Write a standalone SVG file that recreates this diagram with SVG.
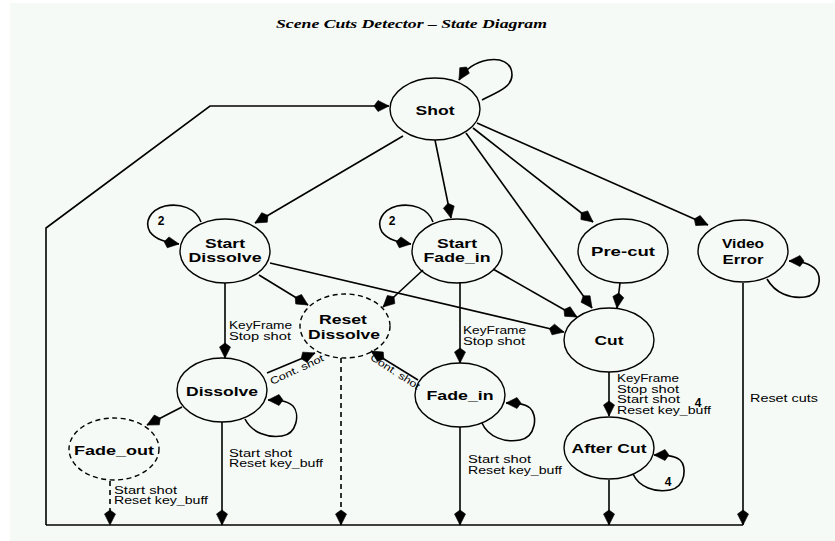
<svg xmlns="http://www.w3.org/2000/svg" width="835" height="541" viewBox="0 0 835 541">
<defs>
<style>
.bg{fill:#f6faf7}
.nd{fill:none;stroke:#000;stroke-width:1.4}
.dash{stroke-dasharray:5 3.5}
.e{fill:none;stroke:#000;stroke-width:1.6}
.ed{fill:none;stroke:#000;stroke-width:1.6;stroke-dasharray:5 4}
.n{font-family:"Liberation Sans",Arial,sans-serif;font-weight:bold;font-size:13.5px;text-anchor:middle;fill:#000}
.l{font-family:"Liberation Sans",Arial,sans-serif;font-size:10px;fill:#000}
.k{font-family:"Liberation Sans",Arial,sans-serif;font-weight:bold;font-size:12px;fill:#000;text-anchor:middle}
.t{font-family:"Liberation Serif","Times New Roman",serif;font-weight:bold;font-style:italic;font-size:12px;text-anchor:middle;fill:#000}
</style>
<marker id="ah" markerUnits="userSpaceOnUse" viewBox="-17 -7 18 14" refX="0" refY="0" markerWidth="18" markerHeight="14" orient="auto" overflow="visible">
<path d="M0,0 L-11,-5.5 L-15,0 L-11,5.5 Z" fill="#000" stroke="#000" stroke-width="0.6"/>
</marker>
</defs>
<rect class="bg" x="10" y="3" width="825" height="538"/>
<text class="t" x="411.5" y="28" textLength="271" lengthAdjust="spacingAndGlyphs">Scene Cuts Detector – State Diagram</text>

<g id="connectors">
<path class="e" d="M46,525 V228 L210,106 H389" marker-end="url(#ah)"/>
<path class="e" d="M46,525 H743"/>
<path class="e" d="M482,100 C495,93 512,88 512,75 C512,62 500,58 488,60 C476,62 466,68 459,80" marker-end="url(#ah)"/>
<path class="e" d="M403,136 L255,223" marker-end="url(#ah)"/>
<path class="e" d="M435,140 L451,218" marker-end="url(#ah)"/>
<path class="e" d="M466,133 L592,308" marker-end="url(#ah)"/>
<path class="e" d="M473,128 L593,222" marker-end="url(#ah)"/>
<path class="e" d="M477,123 L708,225" marker-end="url(#ah)"/>
<path class="e" d="M201,222 C196,208 180,203 165,206 C150,210 144,222 150,232 C156,240 166,242 179,244" marker-end="url(#ah)"/>
<path class="e" d="M433,222 C428,208 412,203 397,206 C382,210 376,222 382,232 C388,240 398,242 411,244" marker-end="url(#ah)"/>
<path class="e" d="M767,279 C775,293 790,299 805,297 C820,295 822,278 816,270 C810,263 800,261 789,261" marker-end="url(#ah)"/>
<path class="e" d="M259,275 L308,305" marker-end="url(#ah)"/>
<path class="e" d="M423,270 L383,307" marker-end="url(#ah)"/>
<path class="e" d="M270,263 L564,332" marker-end="url(#ah)"/>
<path class="e" d="M493,269 L577,317" marker-end="url(#ah)"/>
<path class="e" d="M225,283 V358" marker-end="url(#ah)"/>
<path class="e" d="M460,282 V363" marker-end="url(#ah)"/>
<path class="e" d="M620,283 L617,308" marker-end="url(#ah)"/>
<path class="e" d="M609,372 V416" marker-end="url(#ah)"/>
<path class="e" d="M267,373 L315,353" marker-end="url(#ah)"/>
<path class="e" d="M418,380 L371,351" marker-end="url(#ah)"/>
<path class="e" d="M182,407 L147,425" marker-end="url(#ah)"/>
<path class="e" d="M245,419 C252,433 268,438 282,436 C297,434 300,414 293,406 C286,400 277,400 268,400" marker-end="url(#ah)"/>
<path class="e" d="M482,423 C488,437 505,443 520,440 C536,437 538,415 530,408 C524,403 515,403 506,403" marker-end="url(#ah)"/>
<path class="e" d="M633,474 C639,487 655,493 670,490 C686,487 687,466 680,460 C674,455 663,455 654,455" marker-end="url(#ah)"/>
<path class="ed" d="M110,481 V525" marker-end="url(#ah)"/>
<path class="e" d="M222,422 V525" marker-end="url(#ah)"/>
<path class="ed" d="M341,358 V525" marker-end="url(#ah)"/>
<path class="e" d="M460,427 V525" marker-end="url(#ah)"/>
<path class="e" d="M609,480 V525" marker-end="url(#ah)"/>
<path class="e" d="M743,283 V525" marker-end="url(#ah)"/>

<g id="edge-labels">
<text class="k" x="161" y="225">2</text>
<text class="k" x="392" y="225">2</text>
<text class="k" x="698" y="407">4</text>
<text class="k" x="668" y="486">4</text>
<text class="l" x="229" y="329" textLength="63" lengthAdjust="spacingAndGlyphs">KeyFrame</text>
<text class="l" x="229" y="340" textLength="62" lengthAdjust="spacingAndGlyphs">Stop shot</text>
<text class="l" x="463" y="334" textLength="63" lengthAdjust="spacingAndGlyphs">KeyFrame</text>
<text class="l" x="463" y="345" textLength="62" lengthAdjust="spacingAndGlyphs">Stop shot</text>
<text class="l" x="617" y="382" textLength="62" lengthAdjust="spacingAndGlyphs">KeyFrame</text>
<text class="l" x="617" y="392.5" textLength="62" lengthAdjust="spacingAndGlyphs">Stop shot</text>
<text class="l" x="617" y="403" textLength="63" lengthAdjust="spacingAndGlyphs">Start shot</text>
<text class="l" x="617" y="413.5" textLength="94" lengthAdjust="spacingAndGlyphs">Reset key_buff</text>
<text class="l" x="750" y="402" textLength="68" lengthAdjust="spacingAndGlyphs">Reset cuts</text>
<text class="l" x="229" y="456.5" textLength="63" lengthAdjust="spacingAndGlyphs">Start shot</text>
<text class="l" x="229" y="466.5" textLength="94" lengthAdjust="spacingAndGlyphs">Reset key_buff</text>
<text class="l" x="114" y="493.5" textLength="63" lengthAdjust="spacingAndGlyphs">Start shot</text>
<text class="l" x="114" y="503.5" textLength="94" lengthAdjust="spacingAndGlyphs">Reset key_buff</text>
<text class="l" x="468" y="463" textLength="63" lengthAdjust="spacingAndGlyphs">Start shot</text>
<text class="l" x="468" y="473.5" textLength="94" lengthAdjust="spacingAndGlyphs">Reset key_buff</text>
<text class="l" x="297" y="373" text-anchor="middle" textLength="58" lengthAdjust="spacingAndGlyphs" transform="rotate(-25 297 370)">Cont. shot</text>
<text class="l" x="395" y="375" text-anchor="middle" textLength="57" lengthAdjust="spacingAndGlyphs" transform="rotate(33 395 372)">Cont. shot</text>
</g>
</g>

<g id="shot"><ellipse class="nd" cx="435" cy="109" rx="45" ry="31"/><text class="n" x="435" y="115" textLength="39" lengthAdjust="spacingAndGlyphs">Shot</text></g>
<g id="start-dissolve"><ellipse class="nd" cx="225" cy="251" rx="45" ry="32"/><text class="n" x="225" y="247.5" textLength="40" lengthAdjust="spacingAndGlyphs">Start</text><text class="n" x="225" y="261.5" textLength="73" lengthAdjust="spacingAndGlyphs">Dissolve</text></g>
<g id="start-fade-in"><ellipse class="nd" cx="457" cy="251" rx="45" ry="32"/><text class="n" x="457" y="247.5" textLength="40" lengthAdjust="spacingAndGlyphs">Start</text><text class="n" x="457" y="261.5" textLength="67" lengthAdjust="spacingAndGlyphs">Fade_in</text></g>
<g id="pre-cut"><ellipse class="nd" cx="623" cy="251" rx="45" ry="32"/><text class="n" x="623" y="256" textLength="64" lengthAdjust="spacingAndGlyphs">Pre-cut</text></g>
<g id="video-error"><ellipse class="nd" cx="743" cy="251" rx="45" ry="31"/><text class="n" x="743" y="247.5" textLength="42" lengthAdjust="spacingAndGlyphs">Video</text><text class="n" x="743" y="264" textLength="41" lengthAdjust="spacingAndGlyphs">Error</text></g>
<g id="cut"><ellipse class="nd" cx="609" cy="340" rx="45" ry="32"/><text class="n" x="609" y="345" textLength="29" lengthAdjust="spacingAndGlyphs">Cut</text></g>
<g id="reset-dissolve"><ellipse class="nd dash" cx="345" cy="326" rx="45" ry="32"/><text class="n" x="343" y="323.5" textLength="48" lengthAdjust="spacingAndGlyphs">Reset</text><text class="n" x="344" y="339" textLength="72" lengthAdjust="spacingAndGlyphs">Dissolve</text></g>
<g id="dissolve"><ellipse class="nd" cx="222" cy="390" rx="45" ry="32"/><text class="n" x="222" y="396" textLength="72" lengthAdjust="spacingAndGlyphs">Dissolve</text></g>
<g id="fade-out"><ellipse class="nd dash" cx="114" cy="449" rx="45" ry="31"/><text class="n" x="114" y="455" textLength="80" lengthAdjust="spacingAndGlyphs">Fade_out</text></g>
<g id="fade-in"><ellipse class="nd" cx="460" cy="395" rx="45" ry="32"/><text class="n" x="460" y="400" textLength="67" lengthAdjust="spacingAndGlyphs">Fade_in</text></g>
<g id="after-cut"><ellipse class="nd" cx="609" cy="448" rx="45" ry="31"/><text class="n" x="609" y="453" textLength="75" lengthAdjust="spacingAndGlyphs">After Cut</text></g>
</svg>
